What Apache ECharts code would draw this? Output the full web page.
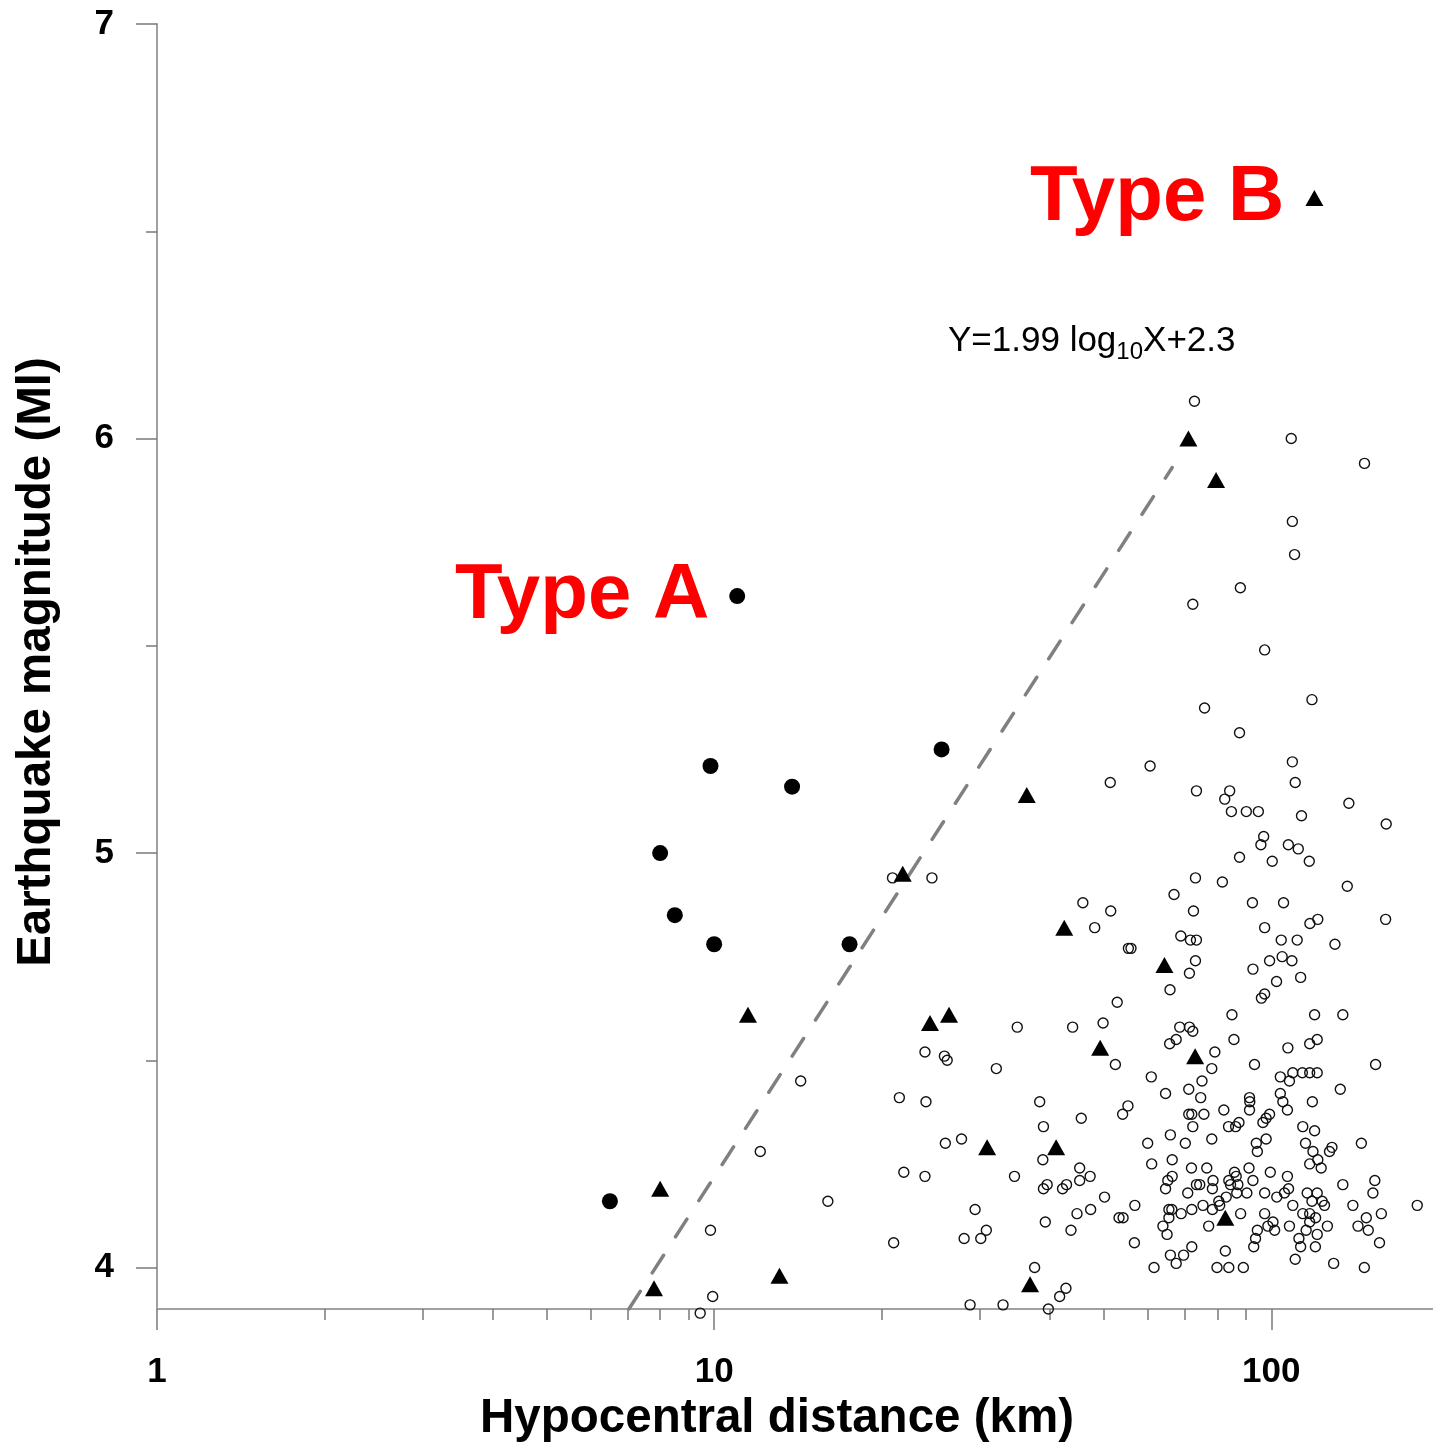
<!DOCTYPE html>
<html><head><meta charset="utf-8">
<script src="https://cdn.jsdelivr.net/npm/echarts@6/dist/echarts.min.js"></script>
<style>html,body{margin:0;padding:0;background:#fff}#c{width:1433px;height:1446px}</style>
</head><body><div id="c"></div>
<script>
// ---- axes ----
const xMin = 1, xMax = 200;
const yMin = 3.9, yMax = 7;
const xMajorTicks = [1, 10, 100];
const xMinorTicks = [2, 3, 4, 5, 6, 7, 8, 9, 20, 30, 40, 50, 60, 70, 80, 90];
const yMajorTicks = [4, 5, 6, 7];
const yMinorTicks = [4.5, 5.5, 6.5];

// ---- data: [hypocentral distance km, magnitude Ml] ----
const typeA = [[11.0,5.62],[25.6,5.25],[9.85,5.21],[13.8,5.16],[8.0,5.00],[8.5,4.85],[10.0,4.78],[17.5,4.78],[6.5,4.16]];
const typeB = [[119.5,6.58],[71.0,6.00],[79.6,5.90],[36.4,5.14],[21.8,4.95],[42.5,4.82],[64.3,4.73],[11.5,4.61],[24.4,4.59],[26.4,4.61],[49.3,4.53],[73.0,4.51],[30.9,4.29],[41.1,4.29],[8.0,4.19],[82.7,4.12],[13.1,3.98],[36.9,3.96],[7.8,3.95]];
const others = [
[72.8,6.09],[108.6,6.00],[147.0,5.94],[109.1,5.80],[110.1,5.72],[88.0,5.64],[72.3,5.60],[97.3,5.49],[75.9,5.35],[118.3,5.37],[87.7,5.29],
[60.6,5.21],[109.1,5.22],[110.4,5.17],[73.4,5.15],[84.2,5.15],[82.5,5.13],[84.8,5.10],[90.2,5.10],[94.8,5.10],[113.3,5.09],[137.8,5.12],[160.8,5.07],[96.9,5.04],[95.8,5.02],[107.3,5.02],[111.8,5.01],[87.7,4.99],[100.4,4.98],[117.0,4.98],[73.1,4.94],[81.7,4.93],[136.9,4.92],[66.9,4.90],[92.5,4.88],[105.2,4.88],[72.5,4.86],[121.2,4.84],[117.3,4.83],[160.4,4.84],[97.3,4.82],[68.8,4.80],[71.6,4.79],[73.4,4.79],[104.2,4.79],[111.3,4.79],[130.1,4.78],[56.0,4.77],[73.1,4.74],[99.3,4.74],[104.6,4.75],[108.9,4.74],[71.3,4.71],[92.7,4.72],[102.2,4.69],[112.9,4.70],[65.8,4.67],[97.3,4.66],[96.0,4.65],[85.0,4.61],[119.6,4.61],[134.4,4.61],[68.5,4.58],[71.3,4.58],[72.3,4.57],[67.5,4.55],[65.7,4.54],[85.7,4.55],[107.1,4.53],[117.2,4.54],[120.9,4.55],[79.2,4.52],
[51.4,5.17],[20.9,4.94],[24.6,4.94],[45.9,4.88],[51.5,4.86],[48.2,4.82],[55.4,4.77],[52.9,4.64],[35.0,4.58],[44.0,4.58],[49.9,4.59],
[23.9,4.52],[25.9,4.51],[26.2,4.50],[32.1,4.48],[52.5,4.49],[21.5,4.41],[24.0,4.40],[38.4,4.40],[55.3,4.39],[54.1,4.37],[45.6,4.36],[39.0,4.34],[26.0,4.30],[27.8,4.31],[38.9,4.26],[21.9,4.23],[23.9,4.22],[34.6,4.22],[45.3,4.24],[45.3,4.21],[47.3,4.22],[39.6,4.20],[39.0,4.19],[42.9,4.20],[42.2,4.19],[50.2,4.17],[56.9,4.15],[29.4,4.14],[44.8,4.13],[47.4,4.14],[53.3,4.12],[54.2,4.12],[39.3,4.11],[30.8,4.09],[28.1,4.07],[30.1,4.07],[43.7,4.09],[21.0,4.06],[56.8,4.06],[37.6,4.00],[42.8,3.95],[41.7,3.93],[28.8,3.91],[33.0,3.91],[39.8,3.90],
[12.1,4.28],[16.0,4.16],[9.85,4.09],[9.94,3.93],[9.44,3.89],[14.3,4.45],
[93.3,4.49],[153.9,4.49],[78.2,4.48],[60.9,4.46],[109.3,4.47],[113.7,4.47],[117.2,4.47],[120.9,4.47],[103.8,4.46],[107.8,4.45],[75.1,4.45],[64.6,4.42],[71.1,4.43],[133.0,4.43],[74.7,4.41],[91.4,4.41],[91.5,4.40],[103.8,4.42],[118.5,4.40],[104.9,4.40],[82.2,4.38],[91.4,4.38],[106.9,4.38],[71.1,4.37],[72.0,4.37],[75.7,4.37],[99.3,4.37],[97.9,4.36],[96.6,4.35],[72.3,4.34],[83.8,4.34],[86.3,4.34],[87.5,4.35],[113.9,4.34],[119.6,4.33],[65.9,4.32],[78.2,4.31],[97.9,4.31],[60.0,4.30],[70.1,4.30],[94.0,4.30],[94.4,4.28],[115.2,4.30],[145.1,4.30],[118.8,4.28],[128.5,4.29],[127.2,4.28],[66.4,4.26],[121.2,4.26],[61.0,4.25],[117.2,4.25],[122.9,4.24],[71.9,4.24],[76.6,4.24],[91.2,4.24],[99.6,4.23],[85.9,4.23],[106.9,4.22],[66.4,4.22],[65.2,4.21],[153.4,4.21],[78.6,4.21],[83.9,4.21],[86.5,4.22],[92.7,4.21],[134.4,4.20],[73.4,4.20],[74.4,4.20],[84.5,4.20],[87.1,4.20],[64.6,4.19],[107.4,4.19],[78.4,4.19],[152.2,4.18],[70.8,4.18],[86.7,4.18],[90.4,4.18],[97.3,4.18],[105.6,4.18],[116.0,4.18],[120.9,4.18],[102.3,4.17],[83.0,4.17],[80.5,4.16],[118.3,4.16],[123.4,4.16],[182.8,4.15],[140.1,4.15],[109.3,4.15],[124.6,4.15],[75.4,4.15],[65.5,4.14],[66.3,4.14],[72.0,4.14],[78.4,4.14],[80.8,4.15],[68.9,4.13],[88.1,4.13],[97.3,4.13],[113.9,4.13],[117.2,4.13],[157.6,4.13],[65.5,4.12],[120.1,4.12],[148.1,4.12],[100.7,4.11],[117.2,4.11],[63.9,4.10],[77.2,4.10],[107.8,4.10],[98.6,4.10],[126.1,4.10],[143.1,4.10],[94.4,4.09],[101.4,4.09],[115.5,4.09],[149.3,4.09],[65.0,4.08],[120.9,4.08],[93.7,4.07],[112.1,4.07],[156.4,4.06],[72.0,4.05],[93.0,4.05],[112.9,4.05],[120.0,4.05],[65.9,4.03],[69.6,4.03],[82.7,4.04],[67.5,4.01],[110.4,4.02],[129.4,4.01],[61.6,4.00],[79.9,4.00],[83.9,4.00],[89.1,4.00],[146.9,4.00]
];
// dashed fit line, Y = 1.99 log10 X + 2.3 (end points as drawn)
const fitLine = [[7.03, 3.9], [66.4, 5.93]];

const FONT = '"Liberation Sans", Arial, sans-serif';
const chart = echarts.init(document.getElementById('c'), null, {renderer: 'canvas'});

function xAxisDef(ticks, len, showLine, showLabel) {
  return {
    type: 'log', logBase: 10, min: xMin, max: xMax, position: 'bottom', offset: 0,
    axisLine: {show: showLine, onZero: false, lineStyle: {color: '#a0a0a0', width: 2}},
    axisTick: {show: true, inside: false, customValues: ticks, length: len, lineStyle: {color: '#7a7a7a', width: 1.5}},
    axisLabel: {show: showLabel, customValues: ticks, margin: 46, fontSize: 35, fontWeight: 'bold', color: '#000', fontFamily: FONT},
    splitLine: {show: false}, minorTick: {show: false}
  };
}
function yAxisDef(ticks, len, showLine, showLabel) {
  return {
    type: 'value', min: yMin, max: yMax, position: 'left', offset: 0,
    axisLine: {show: showLine, onZero: false, lineStyle: {color: '#a0a0a0', width: 2}},
    axisTick: {show: true, inside: false, customValues: ticks, length: len, lineStyle: {color: '#7a7a7a', width: 1.5}},
    axisLabel: {show: showLabel, customValues: ticks, margin: 43, fontSize: 35, fontWeight: 'bold', color: '#000', fontFamily: FONT},
    splitLine: {show: false}
  };
}

chart.setOption({
  animation: false,
  backgroundColor: '#ffffff',
  grid: {left: 157, right: -6, top: 24, bottom: 137, containLabel: false, outerBoundsMode: 'none'},
  xAxis: [xAxisDef(xMajorTicks, 21, true, true), xAxisDef(xMinorTicks, 11, false, false)],
  yAxis: [yAxisDef(yMajorTicks, 21, true, true), yAxisDef(yMinorTicks, 11, false, false)],
  series: [
    {type: 'line', data: fitLine, xAxisIndex: 0, yAxisIndex: 0, symbol: 'none', z: 1,
     lineStyle: {color: '#808080', width: 3.5, type: [21, 22], cap: 'round', opacity: 1}},
    {type: 'scatter', data: others, symbol: 'circle', symbolSize: 10, clip: false, z: 2,
     itemStyle: {color: 'rgba(0,0,0,0)', borderColor: '#111', borderWidth: 1.4, opacity: 1}},
    {type: 'scatter', data: typeA, symbol: 'circle', symbolSize: 16, clip: false, z: 3,
     itemStyle: {color: '#000', opacity: 1}},
    {type: 'scatter', data: typeB, symbol: 'triangle', symbolSize: [18, 16], clip: false, z: 3,
     itemStyle: {color: '#000', opacity: 1}}
  ],
  graphic: [
    {type: 'text', x: 455, y: 596, style: {text: 'Type A', font: 'bold 78px ' + FONT, fill: '#ff0000', textAlign: 'left', textVerticalAlign: 'middle'}},
    {type: 'text', x: 1030, y: 198, style: {text: 'Type B', font: 'bold 78px ' + FONT, fill: '#ff0000', textAlign: 'left', textVerticalAlign: 'middle'}},
    {type: 'text', x: 948, y: 341, style: {
      text: '{m|Y=1.99 log}{s|10}{m|X+2.3}', textAlign: 'left', textVerticalAlign: 'middle',
      rich: {m: {fontSize: 35, fontFamily: FONT, fill: '#000', color: '#000'},
             s: {fontSize: 24, fontFamily: FONT, fill: '#000', color: '#000', padding: [22, 0, 0, 0]}}}},
    {type: 'text', x: 777, y: 1419, style: {text: 'Hypocentral distance (km)', font: 'bold 47.5px ' + FONT, fill: '#000', textAlign: 'center', textVerticalAlign: 'middle'}},
    {type: 'text', x: 37, y: 662, rotation: Math.PI / 2, style: {text: 'Earthquake magnitude (Ml)', font: 'bold 47.5px ' + FONT, fill: '#000', textAlign: 'center', textVerticalAlign: 'middle'}}
  ]
});
</script></body></html>
